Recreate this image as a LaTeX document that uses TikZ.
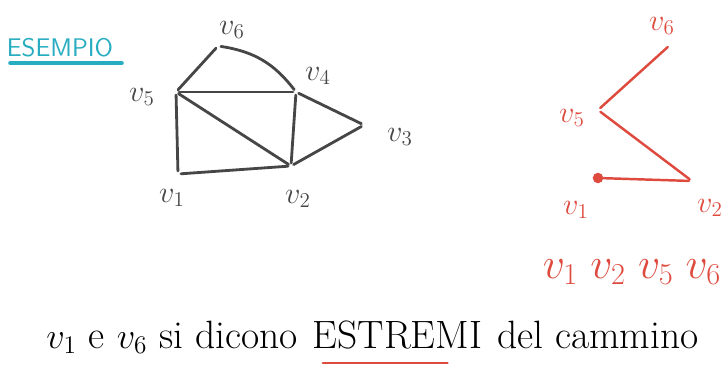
\documentclass[tikz,border=0pt]{standalone}
\usepackage{tikz}
\usetikzlibrary{positioning}
\usepackage{amsmath}
\usepackage{xcolor}
\definecolor{chalkgray}{RGB}{70,70,70}
\definecolor{pathred}{RGB}{222,74,62}
\definecolor{titleteal}{RGB}{40,172,192}

\begin{document}
\begin{tikzpicture}[
    x=0.02cm, y=-0.02cm,
    vertex node/.style={circle, inner sep=0pt, minimum size=3pt},
    name node/.style={font=\fontsize{18}{21}\selectfont, text=chalkgray},
    red name node/.style={font=\fontsize{18}{21}\selectfont, text=pathred},
    graph edge/.style={draw=chalkgray, line width=1.6pt, line cap=round},
    path edge/.style={draw=pathred, line width=1.4pt, line cap=round},
    note node/.style={font=\fontsize{22.5}{26}\selectfont, inner sep=0pt}
]
    \useasboundingbox (0,0) rectangle (728,369);

    % Title
    \node[font=\sffamily\fontsize{14.5}{17}\selectfont, text=titleteal, inner sep=0pt] (title) at (60,48) {ESEMPIO};
    \coordinate (ulA) at (10,63);
    \coordinate (ulB) at (122,63);
    \draw[draw=titleteal, line width=2pt, line cap=round] (ulA) -- (ulB);

    % Nodes (graph)
    \node[vertex node] (v5) at (176,92) {};
    \node[vertex node] (v4) at (296,92) {};
    \node[vertex node] (v6) at (218,46) {};
    \node[vertex node] (v3) at (364,125) {};
    \node[vertex node] (v1) at (178,174) {};
    \node[vertex node] (v2) at (291,166) {};

    \node[name node] (l6) at (232,30) {$v_6$};
    \node[name node] (l4) at (318,76) {$v_4$};
    \node[name node] (l5) at (142,97) {$v_5$};
    \node[name node] (l3) at (400,137) {$v_3$};
    \node[name node] (l1) at (172,198) {$v_1$};
    \node[name node] (l2) at (298,199) {$v_2$};

    % Edges (graph)
    \draw[graph edge] (v5) -- (v6);
    \draw[graph edge] (v6) to[bend left=22] (v4);
    \draw[graph edge] (v5) -- (v4);
    \draw[graph edge] (v5) -- (v1);
    \draw[graph edge] (v1) -- (v2);
    \draw[graph edge] (v5) -- (v2);
    \draw[graph edge] (v4) -- (v2);
    \draw[graph edge] (v4) -- (v3);
    \draw[graph edge] (v3) -- (v2);

    % Nodes (path)
    \node[vertex node] (p6) at (670,45) {};
    \node[vertex node] (p5) at (598,110) {};
    \node[vertex node, fill=pathred, minimum size=6pt] (p1) at (598,178) {};
    \node[vertex node] (p2) at (692,181) {};

    \node[red name node] (q6) at (662,26) {$v_6$};
    \node[red name node] (q5) at (572,118) {$v_5$};
    \node[red name node] (q1) at (576,210) {$v_1$};
    \node[red name node] (q2) at (710,208) {$v_2$};

    % Edges (path)
    \draw[path edge] (p6) -- (p5);
    \draw[path edge] (p5) -- (p2);
    \draw[path edge] (p2) -- (p1);

    % Sequence
    \node[font=\fontsize{24}{28}\selectfont, text=pathred] (seq) at (632,272) {$v_1\;v_2\;v_5\;v_6$};

    % Remark
    \node[note node, anchor=base west] (rem1) at (46,348) {$v_1$ e $v_6$ si dicono};
    \node[note node, base right=8pt of rem1] (ext) {ESTREMI};
    \node[note node, base right=8pt of ext] (rem2) {del cammino};
    \draw[path edge] ([shift={(6pt,-8pt)}]ext.south west) -- ([shift={(-20pt,-8pt)}]ext.south east);
\end{tikzpicture}
\end{document}
